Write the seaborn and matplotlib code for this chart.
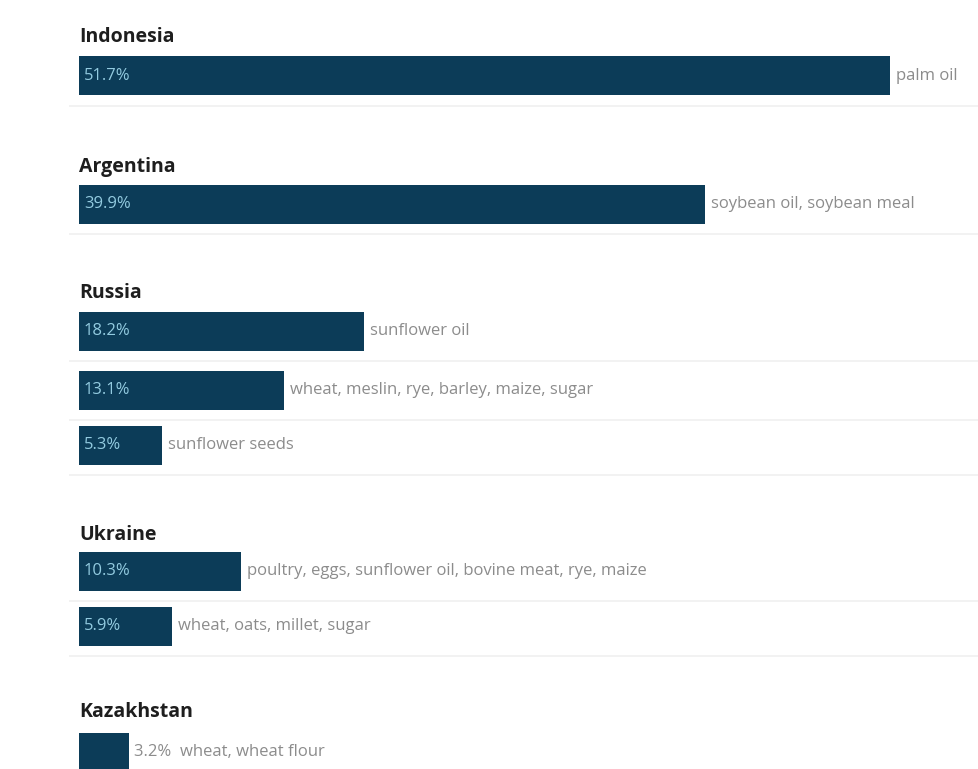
import numpy as np
import pandas as pd
import matplotlib
matplotlib.use("Agg")
import matplotlib.pyplot as plt
import seaborn as sns

# ---- data ----
countries = ["Indonesia", "Argentina", "Russia", "Russia", "Russia",
             "Ukraine", "Ukraine", "Kazakhstan"]
shares = [51.7, 39.9, 18.2, 13.1, 5.3, 10.3, 5.9, 3.2]
products = ["palm oil", "soybean oil, soybean meal", "sunflower oil",
            "wheat, meslin, rye, barley, maize, sugar", "sunflower seeds",
            "poultry, eggs, sunflower oil, bovine meat, rye, maize",
            "wheat, oats, millet, sugar", "wheat, wheat flour"]

# ---- layout (pixel rows, top-down) ----
row_y = [75.5, 204, 331, 390, 445, 571, 626, 752]
header_y = {"Indonesia": 37, "Argentina": 167, "Russia": 293,
            "Ukraine": 535, "Kazakhstan": 712}
BAR_H = 39
W, H = 979, 769
X0 = 79
PX_PER_PCT = (890 - 79) / 51.7

BAR_COLOR = "#0c3c58"
IN_COLOR = "#93cbe0"
GRAY = "#8c8c8c"

sns.set_theme(style="white")
plt.rcParams["font.family"] = ["Open Sans", "DejaVu Sans"]

df = pd.DataFrame({"country": countries, "share": shares,
                   "product": products, "y": row_y})

fig = plt.figure(figsize=(W / 100, H / 100), dpi=100)
ax = fig.add_axes([0, 0, 1, 1])

min_gap = np.min(np.diff(np.unique(df["y"])))
sns.barplot(data=df, x="share", y="y", orient="h", native_scale=True,
            color=BAR_COLOR, saturation=1, width=BAR_H / min_gap,
            linewidth=0, ax=ax)

ax.set_xlim(-X0 / PX_PER_PCT, (W - X0) / PX_PER_PCT)
ax.set_ylim(H, 0)
ax.axis("off")

# separator lines
for yc in df["y"]:
    ax.plot([-10 / PX_PER_PCT, ax.get_xlim()[1]], [yc + 30, yc + 30],
            color="#f0f0f0", lw=1.2, solid_capstyle="butt", zorder=0)

# headers
for name, hy in header_y.items():
    ax.text(0, hy, name, fontsize=14, fontweight="bold", color="#1e1e1e",
            ha="left", va="center")

# labels
for _, r in df.iterrows():
    end = r["share"]
    if r["share"] >= 5:
        ax.text(5 / PX_PER_PCT, r["y"], f"{r['share']:.1f}%", fontsize=12,
                color=IN_COLOR, ha="left", va="center")
        ax.text(end + 6 / PX_PER_PCT, r["y"], r["product"], fontsize=12,
                color=GRAY, ha="left", va="center")
    else:
        ax.text(end + 5 / PX_PER_PCT, r["y"],
                f"{r['share']:.1f}%  {r['product']}", fontsize=12,
                color=GRAY, ha="left", va="center")

fig.savefig("out.png", dpi=100, facecolor="white")
